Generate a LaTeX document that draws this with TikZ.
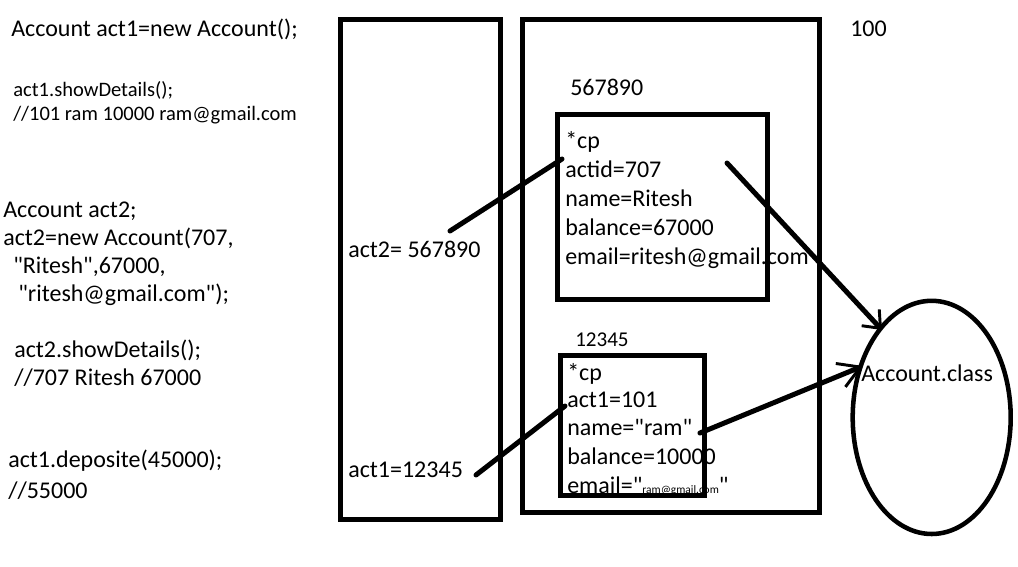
\documentclass[tikz,border=0pt]{standalone}
\usepackage{fontspec}
\setmainfont{Carlito}
\newfontfamily\plainq{Carlito}
\usetikzlibrary{arrows.meta,shapes.geometric}
\newcommand\dq{{\plainq\symbol{34}}}
\begin{document}
\begin{tikzpicture}[x=0.75pt,y=-0.75pt,
  txt/.style={anchor=base west, inner sep=0pt, text=black, font=\fontsize{18}{22}\selectfont},
  smalltxt/.style={txt, font=\fontsize{15.4}{18}\selectfont},
  numtxt/.style={txt, font=\fontsize{15.8}{19}\selectfont},
  frame/.style={draw=black, line width=3.75pt},
  link/.style={draw=black, line width=3.75pt, line cap=round},
]
\useasboundingbox (0,0) rectangle (1018,567);
% left code
\node[txt] (c1) at (11,37) {Account act1=new Account();};
\node[smalltxt] (c2) at (13,97) {act1.showDetails();};
\node[smalltxt] (c3) at (13,121) {//101 ram 10000 ram@gmail.com};
\node[txt] (c4) at (3,217) {Account act2;};
\node[txt] (c5) at (3,245) {act2=new Account(707,};
\node[txt] (c6) at (13,273) {\dq Ritesh\dq,67000,};
\node[txt] (c7) at (18,301) {\dq ritesh@gmail.com\dq);};
\node[txt] (c8) at (14,357) {act2.showDetails();};
\node[txt] (c9) at (14,385) {//707 Ritesh 67000};
\node[txt] (c10) at (8,467) {act1.deposite(45000);};
\node[txt] (c11) at (8,498) {//55000};
% stack texts
\node[txt] (s2) at (348,257) {act2= 567890};
\node[txt] (s1) at (348,477) {act1=12345};
% heap labels
\node[txt] (h100) at (850,37) {100};
\node[txt] (a567) at (570,96) {567890};
\node[numtxt] (a123) at (575,346) {12345};
% upper object
\node[txt] (u1) at (565,148) {*cp};
\node[txt] (u2) at (565,177) {actid=707};
\node[txt] (u3) at (565,206) {name=Ritesh};
\node[txt] (u4) at (565,235) {balance=67000};
\node[txt] (u5) at (565,264) {email=ritesh@gmail.com};
% lower object
\node[txt] (l1) at (567,380) {*cp};
\node[txt] (l2) at (567,407) {act1=101};
\node[txt] (l3) at (567,435) {name=\dq ram\dq};
\node[txt] (l4) at (567,464) {balance=10000};
\node[txt] (l5) at (567,493) {email=\dq{\fontsize{8.55}{10}\selectfont ram@gmail.com}\dq};
% frames
\draw[frame] (340.5,19.5) rectangle (500.5,519.5);
\draw[frame] (522.5,19.5) rectangle (819.5,512.5);
\draw[frame] (557.5,114.5) rectangle (767.5,299.5);
\draw[frame] (560.5,355.5) rectangle (704.5,495.5);
\node[draw=black, line width=3.4pt, ellipse, minimum width=118.5pt, minimum height=174.9pt, inner sep=0pt] (cls) at (931.7,417.4) {};
\node[txt] (clsl) at (861,381) {Account.class};
% connectors
\coordinate (p1s) at (450,231);
\coordinate (p1e) at (562,159);
\coordinate (p2s) at (476,475);
\coordinate (p2e) at (565,406);
\coordinate (p3s) at (727,163);
\coordinate (p3e) at (882,330);
\coordinate (p4s) at (700,433);
\coordinate (p4e) at (863,366);
\draw[link] (p1s) -- (p1e);
\draw[link] (p2s) -- (p2e);
\draw[link, -{Straight Barb[length=11pt, width=18pt, line width=2.2pt]}] (p3s) -- (p3e);
\draw[link, -{Straight Barb[length=16pt, width=19pt, line width=2.2pt]}] (p4s) -- (p4e);
\end{tikzpicture}
\end{document}
